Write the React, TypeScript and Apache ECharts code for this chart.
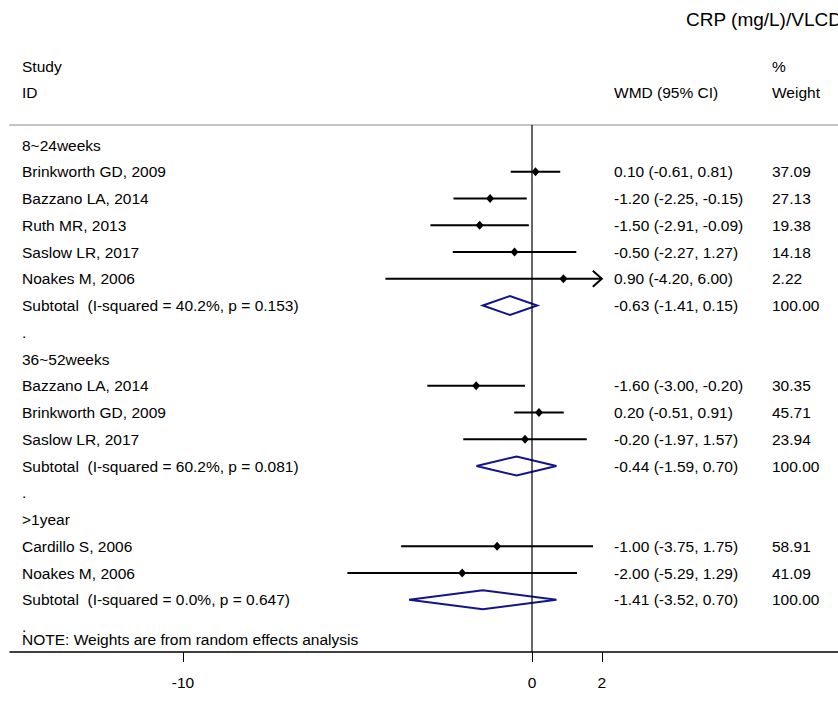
import React, { useEffect, useRef } from "react";
import * as echarts from "echarts";

const rowLabels = [
  "8~24weeks",
  "Brinkworth GD, 2009",
  "Bazzano LA, 2014",
  "Ruth MR, 2013",
  "Saslow LR, 2017",
  "Noakes M, 2006",
  "Subtotal  (I-squared = 40.2%, p = 0.153)",
  ".",
  "36~52weeks",
  "Bazzano LA, 2014",
  "Brinkworth GD, 2009",
  "Saslow LR, 2017",
  "Subtotal  (I-squared = 60.2%, p = 0.081)",
  ".",
  ">1year",
  "Cardillo S, 2006",
  "Noakes M, 2006",
  "Subtotal  (I-squared = 0.0%, p = 0.647)",
  ".",
  "NOTE: Weights are from random effects analysis",
];
const rowKinds = [
  "group", "study", "study", "study", "study", "study", "subtotal", "blank",
  "group", "study", "study", "study", "subtotal", "blank",
  "group", "study", "study", "subtotal", "blank", "note",
];
const estimates = [null, 0.1, -1.2, -1.5, -0.5, 0.9, -0.63, null, null, -1.6, 0.2, -0.2, -0.44, null, null, -1.0, -2.0, -1.41, null, null];
const lowerCI = [null, -0.61, -2.25, -2.91, -2.27, -4.2, -1.41, null, null, -3.0, -0.51, -1.97, -1.59, null, null, -3.75, -5.29, -3.52, null, null];
const upperCI = [null, 0.81, -0.15, -0.09, 1.27, 6.0, 0.15, null, null, -0.2, 0.91, 1.57, 0.7, null, null, 1.75, 1.29, 0.7, null, null];
const weights = [null, 37.09, 27.13, 19.38, 14.18, 2.22, 100.0, null, null, 30.35, 45.71, 23.94, 100.0, null, null, 58.91, 41.09, 100.0, null, null];

const xTicks = [-10, 0, 2];
const titleText = "CRP (mg/L)/VLCD";
const headerStudy = ["Study", "ID"];
const headerEffect = "WMD (95% CI)";
const headerWeight = ["%", "Weight"];

const FONT = "'Liberation Sans', Arial, Helvetica, sans-serif";
const FS = 15.5;
const NAVY = "#14148a";

export default function App() {
  const ref = useRef<HTMLDivElement>(null);
  useEffect(() => {
    if (!ref.current) return;
    const chart = echarts.init(ref.current, undefined, { renderer: "svg" });
    const clipMax = xTicks[xTicks.length - 1];
    const fmt = (v: number) => v.toFixed(2);

    // row position: index, note sits half a row below the preceding blank row
    const rowPos = rowKinds.map((k, i) => (k === "note" ? i - 0.5 : i));

    const data = rowLabels.map((_, i) => [0, rowPos[i]]);

    const renderItem = (params: any, api: any) => {
      const i = params.dataIndex;
      const row = api.value(1);
      const y = api.coord([0, row])[1];
      const children: any[] = [];
      children.push({
        type: "text",
        style: { text: rowLabels[i], x: 22, y, fill: "#000", font: `${FS}px ${FONT}`, align: "left", verticalAlign: "middle" },
      });
      const est = estimates[i];
      const lo = lowerCI[i];
      const hi = upperCI[i];
      if (est != null && lo != null && hi != null) {
        const xLo = api.coord([lo, row])[0];
        const xHi = api.coord([Math.min(hi, clipMax), row])[0];
        const xEst = api.coord([est, row])[0];
        if (rowKinds[i] === "study") {
          children.push({
            type: "line",
            shape: { x1: xLo, y1: y, x2: xHi, y2: y },
            style: { stroke: "#000", lineWidth: 2 },
          });
          if (hi > clipMax) {
            children.push({
              type: "polyline",
              shape: { points: [[xHi - 9, y - 8], [xHi, y], [xHi - 9, y + 8]] },
              style: { stroke: "#000", lineWidth: 2, fill: "none" },
            });
          }
          children.push({
            type: "polygon",
            shape: { points: [[xEst - 4, y], [xEst, y - 4.5], [xEst + 4, y], [xEst, y + 4.5]] },
            style: { fill: "#000" },
          });
        } else {
          children.push({
            type: "polygon",
            shape: { points: [[xLo, y], [xEst, y - 9.5], [xHi, y], [xEst, y + 9.5]] },
            style: { fill: "none", stroke: NAVY, lineWidth: 2 },
          });
        }
        children.push({
          type: "text",
          style: { text: `${fmt(est)} (${fmt(lo)}, ${fmt(hi)})`, x: 614, y, fill: "#000", font: `${FS}px ${FONT}`, align: "left", verticalAlign: "middle" },
        });
        const w = weights[i];
        if (w != null) {
          children.push({
            type: "text",
            style: { text: fmt(w), x: 772, y, fill: "#000", font: `${FS}px ${FONT}`, align: "left", verticalAlign: "middle" },
          });
        }
      }
      return { type: "group", children };
    };

    const xMin = -14.957;
    const xMax = 8.768;
    const yMin = -0.748;
    const yMax = 18.953;

    const headerText = (text: string, x: number, y: number, size = FS) => ({
      type: "text",
      left: x,
      top: y - size / 2 - 1,
      style: { text, fill: "#000", font: `${size}px ${FONT}` },
    });

    chart.setOption({
      animation: false,
      backgroundColor: "#fff",
      grid: { left: 10, right: 0, top: 125, bottom: 58, containLabel: false },
      xAxis: [
        {
          type: "value",
          min: xMin,
          max: xMax,
          position: "bottom",
          splitLine: { show: false },
          axisLine: { show: true, onZero: false, lineStyle: { color: "#000", width: 1.5 } },
          axisTick: { show: true, customValues: xTicks, length: 10, lineStyle: { color: "#000", width: 1 } },
          axisLabel: { show: true, customValues: xTicks, color: "#000", fontSize: FS, fontFamily: FONT, margin: 22 },
        },
        {
          type: "value",
          min: xMin,
          max: xMax,
          position: "top",
          splitLine: { show: false },
          axisLine: { show: true, onZero: false, lineStyle: { color: "#c4c4c4", width: 2 } },
          axisTick: { show: false },
          axisLabel: { show: false },
        },
      ],
      yAxis: { type: "value", min: yMin, max: yMax, inverse: true, show: false },
      graphic: [
        headerText(titleText, 686, 20, 19),
        headerText(headerStudy[0], 22, 67),
        headerText(headerStudy[1], 22, 93),
        headerText(headerWeight[0], 772, 67),
        headerText(headerEffect, 614, 93),
        headerText(headerWeight[1], 772, 93),
      ],
      series: [
        {
          type: "line",
          data: [[0, yMin], [0, yMax]],
          symbol: "none",
          lineStyle: { color: "#000", width: 1.2 },
          silent: true,
        },
        {
          type: "custom",
          renderItem,
          data,
          encode: { x: 0, y: 1 },
          clip: false,
        },
      ],
    });
    return () => chart.dispose();
  }, []);
  return <div ref={ref} style={{ position: "fixed", left: 0, top: 0, width: 838, height: 710, background: "#fff" }} />;
}
